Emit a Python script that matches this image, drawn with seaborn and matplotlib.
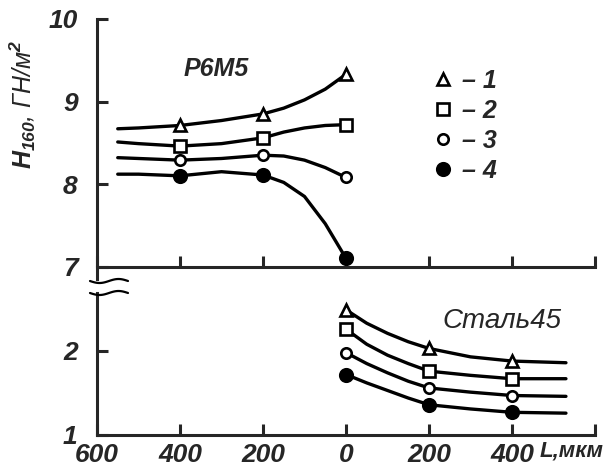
import numpy as np
import matplotlib
matplotlib.use('Agg')
import matplotlib.pyplot as plt
from matplotlib.lines import Line2D
from matplotlib import font_manager
import seaborn as sns

sns.set_style('ticks')
installed = {f.name for f in font_manager.fontManager.ttflist}
font = next(f for f in ['Liberation Sans Narrow', 'DejaVu Sans Condensed',
                        'Liberation Sans', 'DejaVu Sans'] if f in installed)
plt.rcParams['font.family'] = [font, 'DejaVu Sans']
plt.rcParams['font.style'] = 'italic'
plt.rcParams['font.weight'] = 'bold'
plt.rcParams['mathtext.fontset'] = 'custom'
plt.rcParams['mathtext.it'] = font + ':italic:bold'
plt.rcParams['mathtext.rm'] = font + ':italic:bold'
fs = 20 if 'Narrow' in font or 'Condensed' in font else 19

# --- данные: Р6М5 (левая часть, L откладывается влево) ---
L_rb = [-400, -200, 0]
rb_1 = [8.71, 8.85, 9.33]
rb_2 = [8.46, 8.56, 8.72]
rb_3 = [8.29, 8.35, 8.08]
rb_4 = [8.10, 8.11, 7.10]

# кривые
L_rb_curve = [-550, -500, -400, -300, -200, -150, -100, -50, 0]
rb_1_curve = [8.67, 8.68, 8.71, 8.77, 8.85, 8.92, 9.02, 9.15, 9.33]
rb_2_curve = [8.51, 8.49, 8.46, 8.49, 8.56, 8.63, 8.68, 8.71, 8.72]
rb_3_curve = [8.32, 8.31, 8.29, 8.31, 8.35, 8.34, 8.29, 8.20, 8.08]
rb_4_curve = [8.12, 8.12, 8.10, 8.15, 8.11, 8.02, 7.85, 7.52, 7.10]

# --- данные: Сталь 45 (правая часть) ---
L_st = [0, 200, 400]
st_1 = [2.49, 2.03, 1.88]
st_2 = [2.26, 1.76, 1.67]
st_3 = [1.98, 1.56, 1.47]
st_4 = [1.72, 1.36, 1.27]

L_st_curve = [0, 50, 100, 150, 200, 300, 400, 530]
st_1_curve = [2.49, 2.33, 2.21, 2.11, 2.03, 1.93, 1.88, 1.86]
st_2_curve = [2.26, 2.08, 1.95, 1.85, 1.76, 1.71, 1.67, 1.67]
st_3_curve = [1.98, 1.85, 1.74, 1.64, 1.56, 1.51, 1.47, 1.46]
st_4_curve = [1.72, 1.62, 1.53, 1.44, 1.36, 1.31, 1.27, 1.26]

x_ticks = [-600, -400, -200, 0, 200, 400, 600]
x_labels = ['600', '400', '200', '0', '200', '400', '']

markers = {
    '1': dict(marker='^', mfc='white', ms=9),
    '2': dict(marker='s', mfc='white', ms=8),
    '3': dict(marker='o', mfc='white', ms=7.5),
    '4': dict(marker='o', mfc='black', ms=9),
}

W, H = 609, 475
fig = plt.figure(figsize=(W / 100, H / 100), dpi=100)
ax1 = fig.add_axes([97 / W, 1 - 279 / H, 498 / W, 260 / H])
ax2 = fig.add_axes([97 / W, 1 - 435 / H, 498 / W, 142 / H])

lw = 2.4
curves_rb = [rb_1_curve, rb_2_curve, rb_3_curve, rb_4_curve]
pts_rb = [rb_1, rb_2, rb_3, rb_4]
curves_st = [st_1_curve, st_2_curve, st_3_curve, st_4_curve]
pts_st = [st_1, st_2, st_3, st_4]

for key, cy, py in zip(markers, curves_rb, pts_rb):
    sns.lineplot(x=L_rb_curve, y=cy, ax=ax1, color='black', lw=lw, sort=False,
                 estimator=None, solid_capstyle='round')
    ax1.plot(L_rb, py, ls='none', mec='black', mew=1.9, clip_on=False, zorder=5,
             **markers[key])

for key, cy, py in zip(markers, curves_st, pts_st):
    sns.lineplot(x=L_st_curve, y=cy, ax=ax2, color='black', lw=lw, sort=False,
                 estimator=None, solid_capstyle='round')
    ax2.plot(L_st, py, ls='none', mec='black', mew=1.9, clip_on=False, zorder=5,
             **markers[key])

# оси
for ax in (ax1, ax2):
    ax.set_xlim(-600, 600)
    ax.set_xticks(x_ticks)
    sns.despine(ax=ax)
    for s in ('left', 'bottom'):
        ax.spines[s].set_linewidth(2.2)
    ax.tick_params(direction='in', length=8, width=2.2, labelsize=fs, pad=6)

ax1.set_ylim(6.85, 10)
ax1.spines['bottom'].set_position(('data', 7))
ax1.set_yticks([7, 8, 9, 10])
ax1.set_yticklabels(['7', '8', '9', '10'])
ax1.set_xticklabels([])
ax1.tick_params(axis='y', pad=14)

ax2.set_ylim(1, 2.69)
ax2.set_yticks([1, 2])
ax2.set_yticklabels(['1', '2'])
ax2.set_xticklabels(x_labels)
ax2.tick_params(axis='y', pad=14)
ax2.tick_params(axis='x', pad=6)

ax1.set_ylabel('$H_{160}$, ГН/м$^2$', fontsize=fs - 1)
ax1.yaxis.set_label_coords(-0.118, 0.67)

ax2.text(540 / W, 1 - 441 / H, 'L,мкм', transform=fig.transFigure,
         ha='left', va='top', fontsize=fs - 3)

ax1.text(-313, 9.4, 'Р6М5', fontsize=fs - 1, ha='center', va='center')
ax2.text(376, 2.36, 'Сталь45', fontsize=fs + 1, ha='center', va='center',
         fontweight='normal')

# легенда
handles = [Line2D([], [], ls='none', mec='black', mew=1.9, **markers[k]) for k in markers]
labels = ['– ' + k for k in markers]
ax1.legend(handles, labels, loc='upper left', bbox_to_anchor=(420 / W, 1 - 56 / H),
           bbox_transform=fig.transFigure, frameon=False, fontsize=fs - 1,
           handlelength=0.8, handletextpad=0.4, labelspacing=0.24, borderpad=0)

# разрыв оси
xs = np.linspace(90, 128, 40)
for y0 in (281, 293):
    ys = y0 + 2.0 * np.sin((xs - 90) / 38 * 2 * np.pi)
    fig.add_artist(Line2D(xs / W, 1 - ys / H, transform=fig.transFigure,
                          color='black', lw=1.6))

fig.savefig('out.png', dpi=100)
